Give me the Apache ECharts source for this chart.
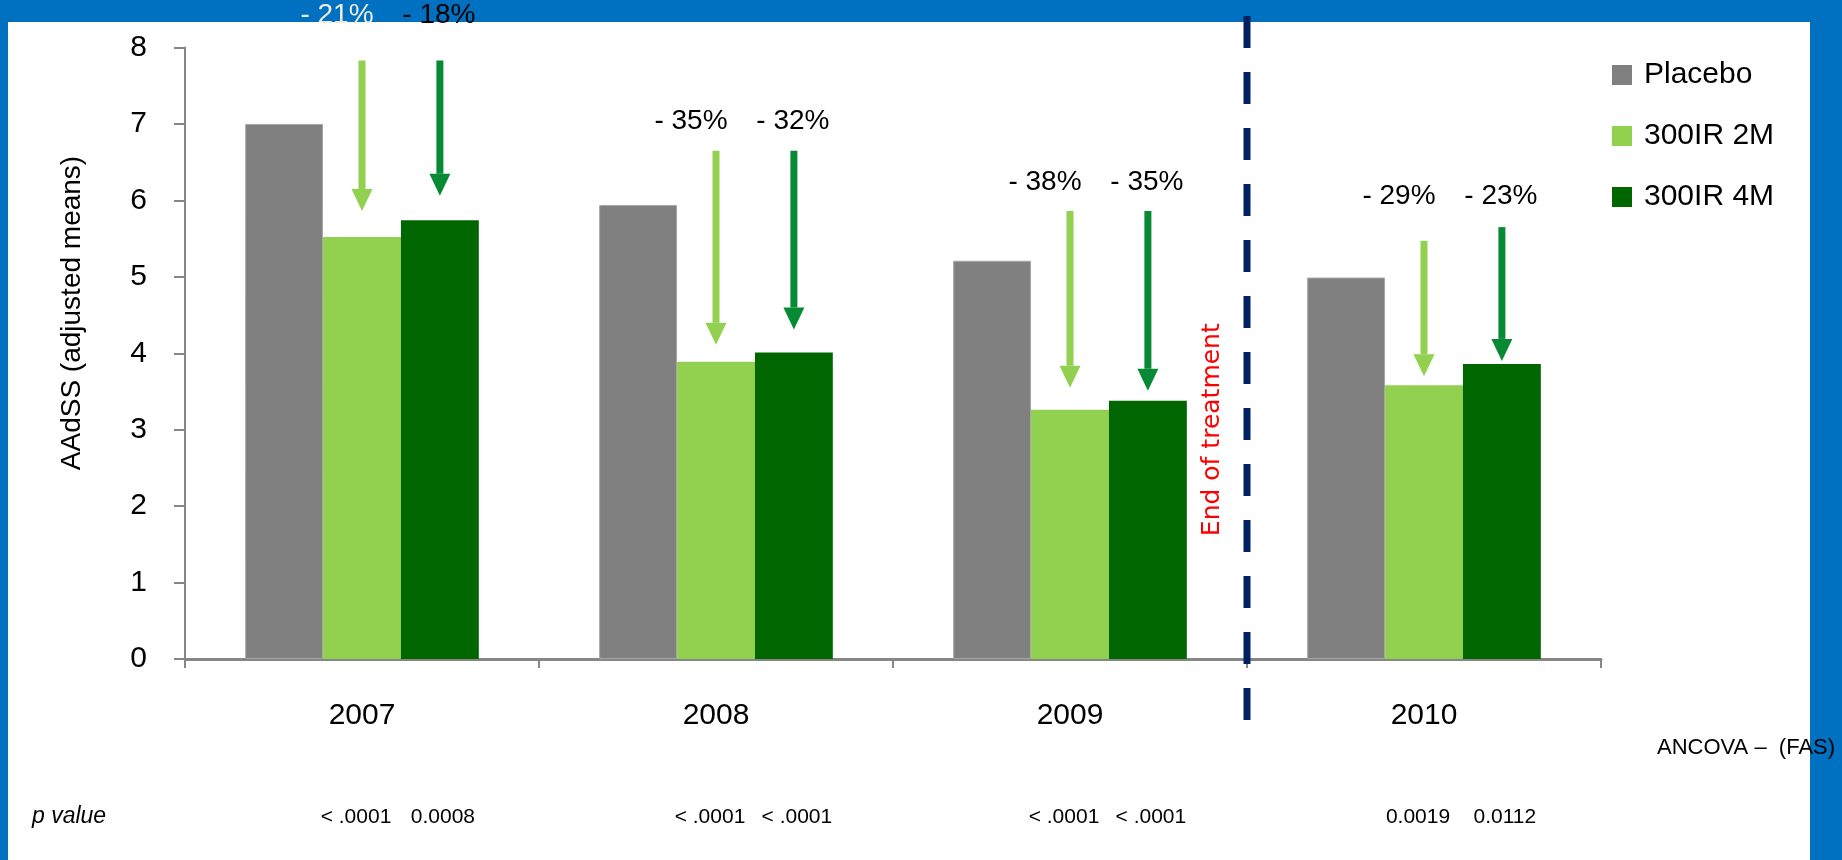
<!DOCTYPE html>
<html>
<head>
<meta charset="utf-8">
<title>AAdSS</title>
<script src="https://cdn.jsdelivr.net/npm/echarts@6/dist/echarts.min.js"></script>
<style>
	html, body { margin: 0; padding: 0; width: 1842px; height: 860px; overflow: hidden; background: #0070C0; }
	#panel { position: absolute; left: 8px; top: 22px; width: 1802px; height: 838px; background: #fff; }
	#main { position: absolute; left: 0; top: 0; width: 1842px; height: 860px; }
</style>
</head>
<body>
<div id="panel"></div>
<div id="main"></div>
<script>
var years = ['2007', '2008', '2009', '2010']; //类别
var seriesNames = ['Placebo', '300IR 2M', '300IR 4M'];
var placebo = [7.0, 5.94, 5.21, 4.99];
var ir2M = [5.52, 3.89, 3.26, 3.58];
var ir4M = [5.74, 4.01, 3.38, 3.86];
var yTicks = [0, 8, 1]; //min max interval

// 箭头 (起点 终点, 轴上的值)
var arrowTop2M = [7.83, 6.65, 5.86, 5.47];
var arrowTip2M = [5.86, 4.11, 3.55, 3.70];
var arrowTop4M = [7.83, 6.65, 5.86, 5.65];
var arrowTip4M = [6.06, 4.31, 3.51, 3.90];
var pctLevel = [8.42, 7.03, 6.24, 6.05]; //百分比文字高度
var pct2M = ['- 21%', '- 35%', '- 38%', '- 29%'];
var pct4M = ['- 18%', '- 32%', '- 35%', '- 23%'];
var pval2M = ['< .0001', '< .0001', '< .0001', '0.0019'];
var pval4M = ['0.0008', '< .0001', '< .0001', '0.0112'];
var endIndex = 2; //治疗结束在2009之后

var barFrac = 0.22; //单个柱子占类别宽度
var font = '"Liberation Sans", Arial, sans-serif';

var arrowData = [];
for (let i = 0; i < years.length; i++) {
	arrowData.push([i, 0, arrowTop2M[i], arrowTip2M[i]]);
	arrowData.push([i, 1, arrowTop4M[i], arrowTip4M[i]]);
}

function txt(x, y, text, size, fill, fam, extra) {
	var o = {
		type: 'text', x: x, y: y, silent: true,
		style: { text: text, fill: fill, font: size + 'px ' + (fam || font), align: 'center', verticalAlign: 'middle', textAlign: 'center', textVerticalAlign: 'middle' }
	};
	if (extra) { for (var k in extra) o[k] = extra[k]; }
	return o;
}

function renderArrow(params, api) {
	var i = api.value(0), s = api.value(1);
	var band = api.size([1, 0])[0];
	var cx = api.coord([i, 0])[0] + band * barFrac * s; //中间柱 / 右柱
	var yTop = api.coord([i, api.value(2)])[1];
	var yTip = api.coord([i, api.value(3)])[1];
	var yHead = yTip - 22;
	var color = s === 0 ? '#92D050' : '#078A33';
	var yBase = api.coord([i, 0])[1];
	var labFill = (i === 0 && s === 0) ? '#EEECE1' : '#000'; //原图这个是浅色
	return {
		type: 'group',
		children: [
			{ type: 'rect', shape: { x: cx - 3.5, y: yTop, width: 7, height: yHead - yTop }, style: { fill: color } },
			{ type: 'polygon', shape: { points: [[cx - 10.5, yHead], [cx + 10.5, yHead], [cx, yTip]] }, style: { fill: color } },
			txt(cx + (s === 0 ? -25 : -1), api.coord([i, pctLevel[i]])[1], s === 0 ? pct2M[i] : pct4M[i], 28, labFill),
			txt(cx + (s === 0 ? -6 : 3), yBase + 158, s === 0 ? pval2M[i] : pval4M[i], 21, '#000')
		]
	};
}

function renderDivider(params, api) {
	var band = api.size([1, 0])[0];
	var x = api.coord([api.value(0), 0])[0] + band / 2;
	var yBase = api.coord([0, 0])[1];
	var yMax = api.coord([0, yTicks[1]])[1];
	return {
		type: 'group',
		children: [
			{ type: 'line', shape: { x1: x, y1: yMax - 31.5, x2: x, y2: yBase + 61 }, style: { stroke: '#002060', lineWidth: 7, lineDash: [32, 24] } },
			txt(x - 35, api.coord([0, 3])[1], 'End of treatment', 25, '#FF0000', '"DejaVu Sans", Verdana, sans-serif', { rotation: Math.PI / 2 })
		]
	};
}

var chart = echarts.init(document.getElementById('main'));
chart.setOption({
	animation: false,
	backgroundColor: 'transparent',
	grid: { left: 185, right: 241, top: 47.5, bottom: 201 },
	legend: {
		data: seriesNames,
		orient: 'vertical',
		left: 1607, top: 55,
		icon: 'rect',
		itemWidth: 20, itemHeight: 20, itemGap: 31,
		itemStyle: { borderWidth: 0 },
		textStyle: { fontSize: 30, lineHeight: 30, color: '#000', fontFamily: font, padding: [0, 0, 0, 7] }
	},
	xAxis: {
		type: 'category',
		data: years,
		axisLine: { lineStyle: { color: '#868686', width: 3 } },
		axisTick: { show: true, length: 9, lineStyle: { color: '#868686', width: 2 } },
		axisLabel: { fontSize: 30, color: '#000', fontFamily: font, margin: 42 }
	},
	yAxis: {
		type: 'value',
		min: yTicks[0], max: yTicks[1], interval: yTicks[2],
		axisLine: { show: true, lineStyle: { color: '#868686', width: 2 } },
		axisTick: { show: true, length: 11, lineStyle: { color: '#868686', width: 2 } },
		splitLine: { show: false },
		axisLabel: { fontSize: 30, color: '#000', fontFamily: font, margin: 38 }
	},
	graphic: [
		txt(72, 313, 'AAdSS (adjusted means)', 28, '#000', null, { rotation: Math.PI / 2 }),
		{ type: 'text', x: 32, y: 817, silent: true, style: { text: 'p value', fill: '#000', font: 'italic 23px ' + font, align: 'left', verticalAlign: 'middle', textAlign: 'left', textVerticalAlign: 'middle' } },
		{ type: 'text', x: 1657, y: 748, silent: true, style: { text: 'ANCOVA \u2013  (FAS)', fill: '#000', font: '22px ' + font, align: 'left', verticalAlign: 'middle', textAlign: 'left', textVerticalAlign: 'middle' } }
	],
	series: [
		{ name: seriesNames[0], type: 'bar', data: placebo, barGap: '0%', barCategoryGap: '34%', itemStyle: { color: '#808080', borderColor: '#A6A6A6', borderWidth: 1 } },
		{ name: seriesNames[1], type: 'bar', data: ir2M, itemStyle: { color: '#92D050' } },
		{ name: seriesNames[2], type: 'bar', data: ir4M, itemStyle: { color: '#006600' } },
		{ type: 'custom', data: arrowData, renderItem: renderArrow, encode: { x: 0, y: [2, 3] }, clip: false, silent: true, z: 4 },
		{ type: 'custom', data: [[endIndex, 0]], renderItem: renderDivider, encode: { x: 0, y: 1 }, clip: false, silent: true, z: 5 }
	]
});
</script>
</body>
</html>
